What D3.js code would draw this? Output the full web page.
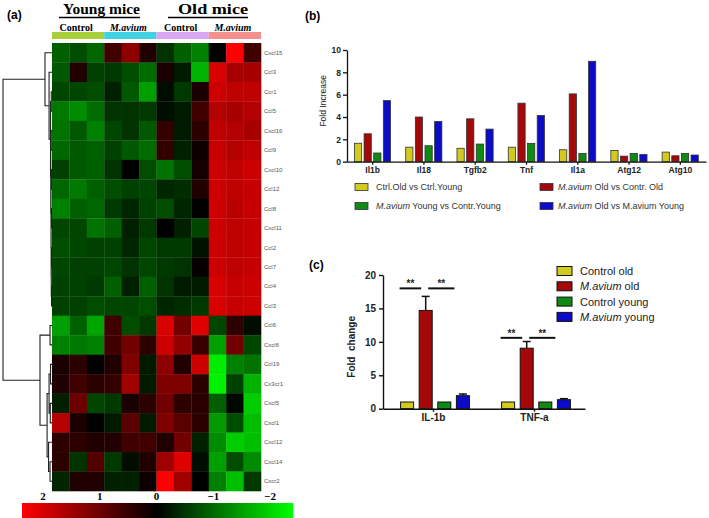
<!DOCTYPE html>
<html>
<head>
<meta charset="utf-8">
<script src="https://cdn.jsdelivr.net/npm/d3@7"></script>
<style>
  body { margin: 0; background: #fff; }
  svg { display: block; }
</style>
</head>
<body>
<script>
// ---- panel (a) data ----
const geneRows = ["Cxcl15","Ccl3","Ccr1","Ccl5","Cxcl16","Ccl9","Cxcl10","Ccl12","Ccl8","Cxcl11","Ccl2","Ccl7","Ccl4","Ccl3","Ccl6","Cxcl6","Ccl19","Cx3cr1","Cxcl5","Cxcl1","Cxcl12","Cxcl14","Cxcr2"];
const sampleGroups = ["Control","M.avium","Control","M.avium"];
const groupColors = ["#a6cf3a","#40d2e2","#d9a6f2","#f5918c"];
const heatValues = [
  [-0.75,-0.6,-0.8,0.5,1.1,0.25,-0.4,-0.75,-1.0,0,2.0,0.5],
  [-0.7,0.25,-0.5,-0.45,-0.6,-0.85,0.2,-0.2,-1.4,1.7,1.3,1.3],
  [-0.55,-0.55,-0.6,-0.25,-0.7,-1.25,-0.1,-0.45,0.2,1.6,1.5,1.5],
  [-0.95,-1.1,-0.85,-0.4,-0.4,-0.45,-0.1,-0.2,0.5,1.4,1.3,1.4],
  [-0.9,-0.7,-1.0,-0.55,-0.4,-0.7,0.4,-0.2,0.35,1.5,1.4,1.3],
  [-0.8,-0.7,-0.75,-0.5,-0.7,-0.85,0.4,-0.25,0.1,1.55,1.4,1.5],
  [-0.5,-0.7,-0.75,-0.4,0,-0.6,-0.9,-0.6,0.15,1.6,1.5,1.6],
  [-0.8,-0.95,-0.75,-0.6,-0.5,-0.55,-0.3,-0.35,0.25,1.6,1.5,1.55],
  [-1.0,-0.75,-0.8,-0.45,-0.3,-0.5,-0.6,-0.3,0,1.6,1.45,1.55],
  [-0.55,-0.55,-0.9,-0.75,-0.25,-0.45,0,-0.25,-0.55,1.6,1.5,1.55],
  [-0.6,-0.55,-0.5,-0.5,-0.3,-0.55,-0.45,-0.45,-0.15,1.6,1.5,1.55],
  [-0.55,-0.5,-0.5,-0.55,-0.4,-0.55,-0.45,-0.4,0.05,1.6,1.5,1.55],
  [-0.5,-0.5,-0.45,-0.75,-0.25,-0.75,-0.4,-0.2,-0.2,1.7,1.55,1.6],
  [-0.5,-0.5,-0.6,-0.55,-0.55,-0.6,-0.3,-0.35,-0.45,1.7,1.55,1.6],
  [-1.25,-0.75,-1.3,0.5,-0.6,-0.45,1.7,0.9,1.75,-0.55,0.35,-0.1],
  [-1.0,-0.95,-1.0,0.5,0.9,0.35,1.6,1.15,0.45,-1.25,0.9,-0.55],
  [0.2,0.35,0,0.25,1.0,-0.2,1.1,0.25,1.6,-1.85,-1.0,-0.9],
  [0.25,0.5,0.35,0.4,1.25,-0.2,1.0,1.0,0.35,-1.9,-0.5,-1.4],
  [-0.25,0.85,-0.55,-0.45,0.2,0.35,0.9,0.35,0.35,-0.75,-0.05,-1.6],
  [1.4,0.2,0,-0.2,0.7,-0.2,1.0,0.7,0.35,-1.2,-0.6,-1.5],
  [0.35,0.35,0.25,0.25,0.5,0.5,0.25,0.9,-0.25,-1.1,-1.6,-1.5],
  [0.35,-0.4,0.65,-0.45,-0.1,0.25,1.25,1.75,-0.1,-1.25,-0.6,-1.1],
  [-0.3,0.25,0.25,-0.25,-0.25,0.1,2.0,1.25,0,-1.0,-1.5,-0.45]
];
const colorbarTicks = [2,1,0,-1,-2];
// row clustering: leaves are row indices, h = merge height (0..1)
const dendro = {h:1, c:[
  {h:0.143, c:[0, {h:0.06, c:[1, {h:0.03, c:[
    {h:0.015, c:[2,3]},
    {h:0.025, c:[{h:0.015, c:[4,5]}, {h:0.02, c:[{h:0.012, c:[6,7]},
      {h:0.018, c:[{h:0.01, c:[8,9]}, {h:0.015, c:[{h:0.01, c:[10,11]}, {h:0.01, c:[12,13]}]}]}]}]}
  ]}]}]},
  {h:0.245, c:[
    {h:0.04, c:[14,15]},
    {h:0.1, c:[
      {h:0.06, c:[{h:0.03, c:[16,17]}, {h:0.035, c:[18,19]}]},
      {h:0.07, c:[20, {h:0.04, c:[21,22]}]}
    ]}
  ]}
]};

// ---- panel (b) data ----
const genesB = ["Il1b","Il18","Tgfb2","Tnf","Il1a","Atg12","Atg10"];
const ctrlOldVsCtrlYoung = [1.65,1.3,1.2,1.3,1.07,1.0,0.86];
const mavOldVsCtrlOld = [2.5,4.0,3.84,5.24,6.07,0.5,0.53];
const mavYoungVsCtrlYoung = [0.78,1.43,1.58,1.64,0.74,0.74,0.74];
const mavOldVsMavYoung = [5.47,3.6,2.92,4.14,8.99,0.65,0.6];
const seriesB = [ctrlOldVsCtrlYoung, mavOldVsCtrlOld, mavYoungVsCtrlYoung, mavOldVsMavYoung];
const legendB = [
  [["Ctrl.Old vs Ctrl.Young", false]],
  [["M.avium", true], [" Old vs Contr. Old", false]],
  [["M.avium", true], [" Young vs Contr.Young", false]],
  [["M.avium", true], [" Old vs M.avium Young", false]]
];

// ---- panel (c) data ----
const cytokines = ["IL-1b","TNF-a"];
const controlOld = [1.0,1.0];
const mavOld = [14.7,9.05];
const controlYoung = [1.0,1.0];
const mavYoung = [1.95,1.35];
const mavOldErr = [2.1,1.0];
const mavYoungErr = [0.25,0.15];
const seriesC = [controlOld, mavOld, controlYoung, mavYoung];
const errorsC = [null, mavOldErr, null, mavYoungErr];
const legendC = [
  [["Control old", false]],
  [["M.avium", true], [" old", false]],
  [["Control young", false]],
  [["M.avium", true], [" young", false]]
];
// significance brackets: [from series, to series, level]
const sigLevels = [18.0, 10.6];

const barColors = ["#d2ca1e","#a50808","#0f8a12","#0c0cc8"];
const SERIF = "'Liberation Serif', 'DejaVu Serif', serif";
const SANS = "'Liberation Sans', Arial, sans-serif";

const svg = d3.select("body").append("svg")
  .attr("width", 709).attr("height", 518)
  .attr("viewBox", "0 0 709 518");

function addParts(textSel, parts) {
  parts.forEach(([t, it]) => {
    textSel.append("tspan").attr("font-style", it ? "italic" : "normal").text(t);
  });
}

// ================= panel (a) =================
const colIdx = d3.range(12);
const xHeat = d3.scaleBand().domain(colIdx).range([52, 261]);
const yHeat = d3.scaleBand().domain(d3.range(geneRows.length)).range([43, 491]);
const heatColor = d3.scaleLinear().domain([-2, 0, 2])
  .range(["#00ff00", "#000000", "#ff0000"]).clamp(true);

svg.append("text").attr("x", 7).attr("y", 19)
  .attr("font-family", SANS).attr("font-weight", "bold").attr("font-size", 12)
  .text("(a)");

// group headers
const headers = svg.append("g").attr("font-family", SERIF).attr("font-weight", "bold");
[["Young mice", 63, 77, 59, 140], ["Old mice", 178, 70, 168, 248]].forEach(([t, x, len, u0, u1]) => {
  headers.append("text").attr("x", x).attr("y", 14).attr("font-size", 15)
    .attr("textLength", len).attr("lengthAdjust", "spacingAndGlyphs").text(t);
  headers.append("line").attr("x1", u0).attr("x2", u1).attr("y1", 17.5).attr("y2", 17.5)
    .attr("stroke", "#000").attr("stroke-width", 1.3);
});

sampleGroups.forEach((g, i) => {
  const x0 = xHeat(i * 3), x1 = xHeat(i * 3 + 2) + xHeat.bandwidth();
  svg.append("text").attr("x", (x0 + x1) / 2 - 2).attr("y", 31)
    .attr("text-anchor", "middle").attr("font-family", SERIF)
    .attr("font-weight", "bold").attr("font-size", 10)
    .attr("font-style", g === "M.avium" ? "italic" : "normal").text(g);
  svg.append("rect").attr("x", x0).attr("y", 32).attr("width", x1 - x0).attr("height", 7)
    .attr("fill", groupColors[i]);
});

// cells
svg.append("g").selectAll("g")
  .data(heatValues)
  .join("g")
  .attr("transform", (d, i) => `translate(0,${yHeat(i)})`)
  .selectAll("rect")
  .data(d => d)
  .join("rect")
  .attr("x", (d, j) => xHeat(j))
  .attr("width", xHeat.bandwidth() + 0.3)
  .attr("height", yHeat.bandwidth() + 0.3)
  .attr("fill", d => heatColor(d));

svg.append("g").selectAll("text")
  .data(geneRows)
  .join("text")
  .attr("x", 264)
  .attr("y", (d, i) => yHeat(i) + yHeat.bandwidth() / 2 + 2)
  .attr("font-family", SANS).attr("font-size", 6).attr("fill", "#555")
  .text(d => d);

// dendrogram
const root = d3.hierarchy(dendro, d => (typeof d === "object" ? d.c : null));
const xDend = d3.scaleLinear().domain([0, 1]).range([52, 3]);
root.eachAfter(n => {
  if (n.children) {
    n.py = d3.mean(n.children, c => c.py);
    n.px = xDend(n.data.h);
  } else {
    n.py = yHeat(n.data) + yHeat.bandwidth() / 2;
    n.px = xDend(0);
  }
});
const dendPath = d3.path();
root.each(n => {
  if (!n.children) return;
  const [a, b] = n.children;
  dendPath.moveTo(a.px, a.py); dendPath.lineTo(n.px, a.py);
  dendPath.lineTo(n.px, b.py); dendPath.lineTo(b.px, b.py);
});
svg.append("path").attr("d", dendPath.toString())
  .attr("fill", "none").attr("stroke", "#222").attr("stroke-width", 1.1);

// colour key
const cbScale = d3.scaleLinear().domain([2, -2]).range([43, 270]);
const cbX0 = cbScale(2.37), cbX1 = cbScale(-2.41);
const grad = svg.append("defs").append("linearGradient").attr("id", "cbgrad");
[2.37, 0, -2.41].forEach(v => {
  grad.append("stop").attr("offset", (cbScale(v) - cbX0) / (cbX1 - cbX0))
    .attr("stop-color", heatColor(v));
});
svg.append("rect").attr("x", cbX0).attr("y", 503).attr("width", cbX1 - cbX0).attr("height", 15)
  .attr("fill", "url(#cbgrad)");
svg.append("g").selectAll("text")
  .data(colorbarTicks)
  .join("text")
  .attr("x", d => cbScale(d)).attr("y", 500)
  .attr("text-anchor", "middle").attr("font-family", SERIF)
  .attr("font-weight", "bold").attr("font-size", 11)
  .text(d => (d < 0 ? "\u2212" + Math.abs(d) : d));

// ================= panel (b) =================
svg.append("text").attr("x", 305).attr("y", 20)
  .attr("font-family", SANS).attr("font-weight", "bold").attr("font-size", 12).text("(b)");

const xB = d3.scaleBand().domain(genesB).range([347, 706]);
const xBi = d3.scaleBand().domain(d3.range(4)).range([5, 46]).padding(0.25);
const yB = d3.scaleLinear().domain([0, 10]).range([161.7, 50]);

const gB = svg.append("g");
gB.selectAll("g.series")
  .data(seriesB)
  .join("g").attr("class", "series")
  .attr("fill", (d, i) => barColors[i])
  .selectAll("rect")
  .data((d, i) => d.map((v, k) => ({ v, k, s: i })))
  .join("rect")
  .attr("x", d => xB(genesB[d.k]) + xBi(d.s))
  .attr("y", d => yB(d.v))
  .attr("width", xBi.bandwidth())
  .attr("height", d => yB(0) - yB(d.v))
  .attr("stroke", "#333").attr("stroke-width", 0.8);

const axB = gB.append("g").attr("transform", "translate(347,0)")
  .call(d3.axisLeft(yB).tickValues([0, 2, 4, 6, 8, 10]).tickSize(4).tickSizeOuter(0).tickPadding(2));
const axBx = gB.append("g").attr("transform", `translate(0,${yB(0)})`)
  .call(d3.axisBottom(xB).tickSize(3).tickSizeOuter(0).tickPadding(2));
[axB, axBx].forEach(a => {
  a.selectAll("path, line").attr("stroke", "#111").attr("stroke-width", 1.3);
  a.selectAll("text").attr("font-family", SANS).attr("font-weight", "bold")
    .attr("font-size", 8.5).attr("fill", "#222");
});
gB.append("text")
  .attr("transform", `translate(326,${(yB(0) + yB(10)) / 2 - 5}) rotate(-90)`)
  .attr("text-anchor", "middle").attr("font-family", SANS).attr("font-size", 8.5)
  .attr("fill", "#222").text("Fold Increase");

const legB = gB.append("g");
legendB.forEach((parts, i) => {
  const col = i === 1 || i === 3 ? 1 : 0;
  const row = i < 2 ? 0 : 1;
  const sx = col ? 540 : 355, tx = col ? 558 : 376;
  const cy = row ? 206 : 187;
  legB.append("rect").attr("x", sx).attr("y", cy - 3.5).attr("width", 13).attr("height", 7)
    .attr("fill", barColors[i]).attr("stroke", "#333").attr("stroke-width", 0.8);
  const t = legB.append("text").attr("x", tx).attr("y", cy + 3.2)
    .attr("font-family", SANS).attr("font-size", 9).attr("fill", "#333");
  addParts(t, parts);
});

// ================= panel (c) =================
svg.append("text").attr("x", 309).attr("y", 269)
  .attr("font-family", SANS).attr("font-weight", "bold").attr("font-size", 12).text("(c)");

const xC = d3.scaleBand().domain(cytokines).range([383, 585]);
const xCi = d3.scaleBand().domain(d3.range(4)).range([12, 92]).padding(0.3);
const yC = d3.scaleLinear().domain([0, 20]).range([408.7, 275]);

const gC = svg.append("g");
gC.selectAll("g.series")
  .data(seriesC)
  .join("g").attr("class", "series")
  .attr("fill", (d, i) => barColors[i])
  .selectAll("rect")
  .data((d, i) => d.map((v, k) => ({ v, k, s: i })))
  .join("rect")
  .attr("x", d => xC(cytokines[d.k]) + xCi(d.s))
  .attr("y", d => yC(d.v))
  .attr("width", xCi.bandwidth())
  .attr("height", d => yC(0) - yC(d.v))
  .attr("stroke", "#111").attr("stroke-width", 1);

// error bars (upper only)
errorsC.forEach((err, s) => {
  if (!err) return;
  err.forEach((e, k) => {
    const cx = xC(cytokines[k]) + xCi(s) + xCi.bandwidth() / 2;
    const top = yC(seriesC[s][k] + e), base = yC(seriesC[s][k]);
    gC.append("line").attr("x1", cx).attr("x2", cx).attr("y1", base).attr("y2", top)
      .attr("stroke", "#111").attr("stroke-width", 1.5);
    gC.append("line").attr("x1", cx - 4).attr("x2", cx + 4).attr("y1", top).attr("y2", top)
      .attr("stroke", "#111").attr("stroke-width", 1.5);
  });
});

// significance lines
cytokines.forEach((c, k) => {
  const y = yC(sigLevels[k]);
  const xa = xC(c) + xCi(0), xr = xC(c) + xCi(1), xb = xC(c) + xCi(3);
  [[xa - 1, xr + 2], [xr + 9, xb - 2]].forEach(([x1, x2]) => {
    gC.append("line").attr("x1", x1).attr("x2", x2).attr("y1", y).attr("y2", y)
      .attr("stroke", "#111").attr("stroke-width", 2);
    gC.append("text").attr("x", (x1 + x2) / 2).attr("y", y - 1)
      .attr("text-anchor", "middle").attr("font-family", SANS).attr("font-weight", "bold")
      .attr("font-size", 10).attr("fill", "#222").text("**");
  });
});

const axC = gC.append("g").attr("transform", "translate(383,0)")
  .call(d3.axisLeft(yC).tickValues([0, 5, 10, 15, 20]).tickSize(4).tickSizeOuter(0).tickPadding(3));
const axCx = gC.append("g").attr("transform", `translate(0,${yC(0)})`)
  .call(d3.axisBottom(xC).tickSize(3).tickSizeOuter(0).tickPadding(2));
[axC, axCx].forEach(a => {
  a.selectAll("path, line").attr("stroke", "#111").attr("stroke-width", 1.4);
  a.selectAll("text").attr("font-family", SANS).attr("font-weight", "bold")
    .attr("font-size", 10).attr("fill", "#222");
});
gC.append("text")
  .attr("transform", `translate(355,${(yC(0) + yC(20)) / 2 + 5}) rotate(-90)`)
  .attr("text-anchor", "middle").attr("font-family", SANS).attr("font-weight", "bold")
  .attr("font-size", 10).attr("fill", "#222").style("white-space", "pre")
  .text("Fold  change");

const legC = gC.append("g");
legendC.forEach((parts, i) => {
  const cy = 271 + i * 15.3;
  legC.append("rect").attr("x", 557).attr("y", cy - 4.5).attr("width", 15).attr("height", 9)
    .attr("fill", barColors[i]).attr("stroke", "#111").attr("stroke-width", 1);
  const t = legC.append("text").attr("x", 580).attr("y", cy + 4)
    .attr("font-family", SANS).attr("font-size", 11).attr("fill", "#222");
  addParts(t, parts);
});
</script>
</body>
</html>
